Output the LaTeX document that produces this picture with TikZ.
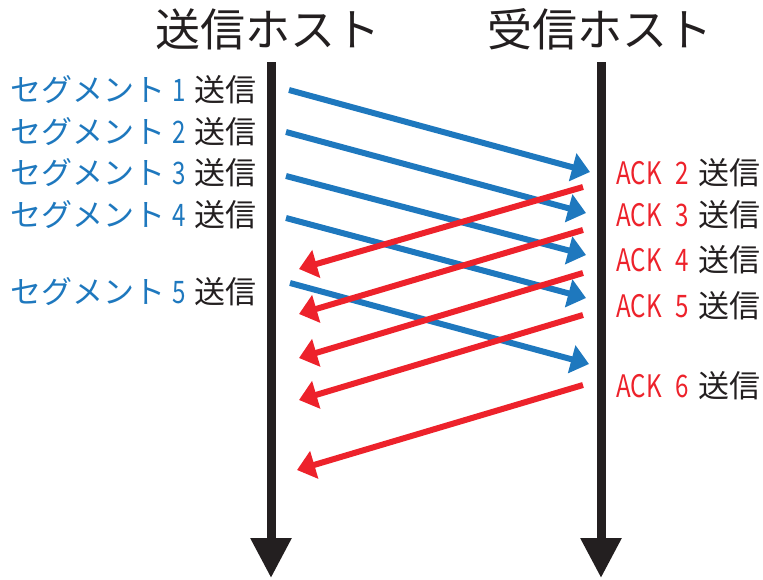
\documentclass[tikz,border=0pt]{standalone}
\usepackage{fontspec}
\setmainfont{Noto Sans CJK JP}
\newfontfamily\condfont[FakeStretch=0.78]{Noto Sans CJK JP}
\usetikzlibrary{arrows.meta}
\definecolor{segblue}{RGB}{30,120,190}
\definecolor{ackred}{RGB}{237,34,43}
\definecolor{lineblack}{RGB}{35,31,32}
\newcommand\segtext[1]{\textcolor{segblue}{セグメント\hspace{0.22em}{\condfont #1}}\hspace{0.3em}送信}
\newcommand\acktext[1]{\textcolor{ackred}{\condfont ACK\hspace{0.45em}#1}\hspace{0.3em}送信}
\begin{document}
\begin{tikzpicture}[x=1pt,y=-1pt,
  timeline/.style={line width=9pt, draw=lineblack, -{Triangle[length=40pt,width=39pt]}},
  seg/.style={line width=6pt, draw=segblue, -{Triangle[length=18pt,width=28pt]}},
  ack/.style={line width=6pt, draw=ackred, -{Triangle[length=18pt,width=28pt]}},
  title/.style={font=\fontsize{45}{50}\selectfont, text=lineblack, inner sep=0pt},
  seglabel/.style={font=\fontsize{31}{34}\selectfont, text=lineblack, anchor=east, inner sep=0pt},
  acklabel/.style={font=\fontsize{31}{34}\selectfont, text=lineblack, anchor=west, inner sep=0pt}]
\useasboundingbox (0,0) rectangle (763,579);

\node[title] (sendhost) at (268,29) {送信ホスト};
\node[title] (recvhost) at (600,29) {受信ホスト};

\coordinate (Ltop) at (271,62);
\coordinate (Lbot) at (271,578);
\coordinate (Rtop) at (601,62);
\coordinate (Rbot) at (601,578);
\draw[timeline] (Ltop) -- (Lbot);
\draw[timeline] (Rtop) -- (Rbot);

\node[seglabel] (s1) at (257,90) {\segtext{1}};
\node[seglabel] (s2) at (257,132) {\segtext{2}};
\node[seglabel] (s3) at (257,173) {\segtext{3}};
\node[seglabel] (s4) at (257,215) {\segtext{4}};
\node[seglabel] (s5) at (257,292) {\segtext{5}};

\node[acklabel] (a2) at (616,173) {\acktext{2}};
\node[acklabel] (a3) at (616,215) {\acktext{3}};
\node[acklabel] (a4) at (616,260) {\acktext{4}};
\node[acklabel] (a5) at (616,306) {\acktext{5}};
\node[acklabel] (a6) at (616,386) {\acktext{6}};

% segment arrows
\coordinate (sa1) at (289,90);  \coordinate (sb1) at (590,172);
\coordinate (sa2) at (286,132); \coordinate (sb2) at (586,213);
\coordinate (sa3) at (286,176); \coordinate (sb3) at (586,255);
\coordinate (sa4) at (286,218); \coordinate (sb4) at (586,298);
\coordinate (sa5) at (290,283); \coordinate (sb5) at (589,364);
\foreach \i in {1,...,5} \draw[seg] (sa\i) -- (sb\i);

% ack arrows
\coordinate (aa2) at (583,187); \coordinate (ab2) at (299,269);
\coordinate (aa3) at (583,230); \coordinate (ab3) at (299,314);
\coordinate (aa4) at (583,273); \coordinate (ab4) at (299,358);
\coordinate (aa5) at (583,315); \coordinate (ab5) at (299,400);
\coordinate (aa6) at (583,385); \coordinate (ab6) at (297,470);
\foreach \i in {2,...,6} \draw[ack] (aa\i) -- (ab\i);
\end{tikzpicture}
\end{document}
